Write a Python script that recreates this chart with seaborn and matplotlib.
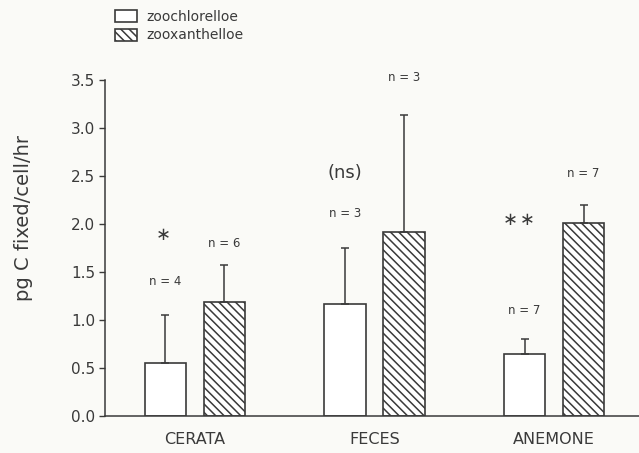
import matplotlib
matplotlib.use("Agg")
import matplotlib.pyplot as plt
import seaborn as sns
import pandas as pd

categories = ["CERATA", "FECES", "ANEMONE"]
series = ["zoochlorelloe", "zooxanthelloe"]
zoochl_mean = [0.55, 1.17, 0.65]
zoochl_err = [0.50, 0.58, 0.15]
zooxan_mean = [1.19, 1.92, 2.01]
zooxan_err = [0.38, 1.22, 0.19]
zoochl_n = ["n = 4", "n = 3", "n = 7"]
zooxan_n = ["n = 6", "n = 3", "n = 7"]
signif = ["\u2217", "(ns)", "\u2217\u200a\u2217"]
yticks = [0.0, 0.5, 1.0, 1.5, 2.0, 2.5, 3.0, 3.5]

df = pd.DataFrame({
    "cat": categories * 2,
    "series": [series[0]] * 3 + [series[1]] * 3,
    "val": zoochl_mean + zooxan_mean,
})

sns.set_style("white")
plt.rcParams["font.family"] = ["DejaVu Sans"]
plt.rcParams["hatch.color"] = "#3a3a3a"
plt.rcParams["hatch.linewidth"] = 1.1

ink = "#3a3a3a"
fig = plt.figure(figsize=(6.39, 4.53), dpi=100, facecolor="#fafaf7")
ax = fig.add_axes([0.1643, 0.0817, 0.8357, 0.7417])
ax.set_facecolor("#fafaf7")

sns.barplot(data=df, x="cat", y="val", hue="series", order=categories,
            hue_order=series, palette=["white", "white"], width=0.656, gap=0.3,
            edgecolor=ink, linewidth=1.2, errorbar=None, legend=False, ax=ax)

patches = [p for p in ax.patches]
n_cat = len(categories)
for i, p in enumerate(patches):
    if i >= n_cat:
        p.set_hatch("\\\\\\\\")

errs = zoochl_err + zooxan_err
for p, e in zip(patches, errs):
    xc = p.get_x() + p.get_width() / 2
    h = p.get_height()
    ax.errorbar([xc], [h], yerr=[[0], [e]], fmt="none", ecolor=ink,
                elinewidth=1.1, capsize=3, capthick=1.1)

# n labels
ann_kw = dict(ha="center", va="center", fontsize=8.5, color=ink)
n_y_chl = [1.40, 2.11, 1.10]
n_y_xan = [1.80, 3.53, 2.53]
for i in range(n_cat):
    p0 = patches[i]
    p1 = patches[i + n_cat]
    ax.text(p0.get_x() + p0.get_width() / 2, n_y_chl[i], zoochl_n[i], clip_on=False, **ann_kw)
    ax.text(p1.get_x() + p1.get_width() / 2, n_y_xan[i], zooxan_n[i], clip_on=False, **ann_kw)

sig_x_off = [-0.01, 0.0, -0.033]
sig_y = [1.89, 2.53, 2.04]
sig_size = [13, 13, 13]
for i in range(n_cat):
    p0 = patches[i]
    x = p0.get_x() + p0.get_width() / 2 + sig_x_off[i]
    ax.text(x, sig_y[i], signif[i], ha="center", va="center",
            fontsize=sig_size[i], color=ink, clip_on=False)

ax.set_xlim(-0.501, 2.473)
ax.set_ylim(0, 3.5)
ax.set_yticks(yticks)
ax.set_yticklabels([f"{t:.1f}" for t in yticks], fontsize=11, color=ink)
ax.set_xticks(range(n_cat))
ax.set_xticklabels(categories, fontsize=11.5, color=ink)
ax.tick_params(axis="y", left=True, length=4, width=1, color=ink, pad=3)
ax.tick_params(axis="x", bottom=False, pad=8)
ax.set_xlabel("")
ax.set_ylabel("pg C fixed/cell/hr", fontsize=14, color=ink)
ax.yaxis.set_label_coords(-0.135, 0.59)
for s in ["top", "right"]:
    ax.spines[s].set_visible(False)
for s in ["left", "bottom"]:
    ax.spines[s].set_color(ink)
    ax.spines[s].set_linewidth(1.1)

# legend
from matplotlib.patches import Patch
handles = [Patch(facecolor="white", edgecolor=ink, linewidth=1.2, label=series[0]),
           Patch(facecolor="white", edgecolor=ink, linewidth=1.2, hatch="\\\\\\\\", label=series[1])]
fig.legend(handles=handles, loc="upper left", bbox_to_anchor=(0.16, 1.005),
           frameon=False, fontsize=10, handlelength=1.6, handleheight=0.95,
           handletextpad=0.7, labelspacing=0.3, labelcolor=ink)

fig.savefig("out.png", dpi=100, facecolor=fig.get_facecolor())
